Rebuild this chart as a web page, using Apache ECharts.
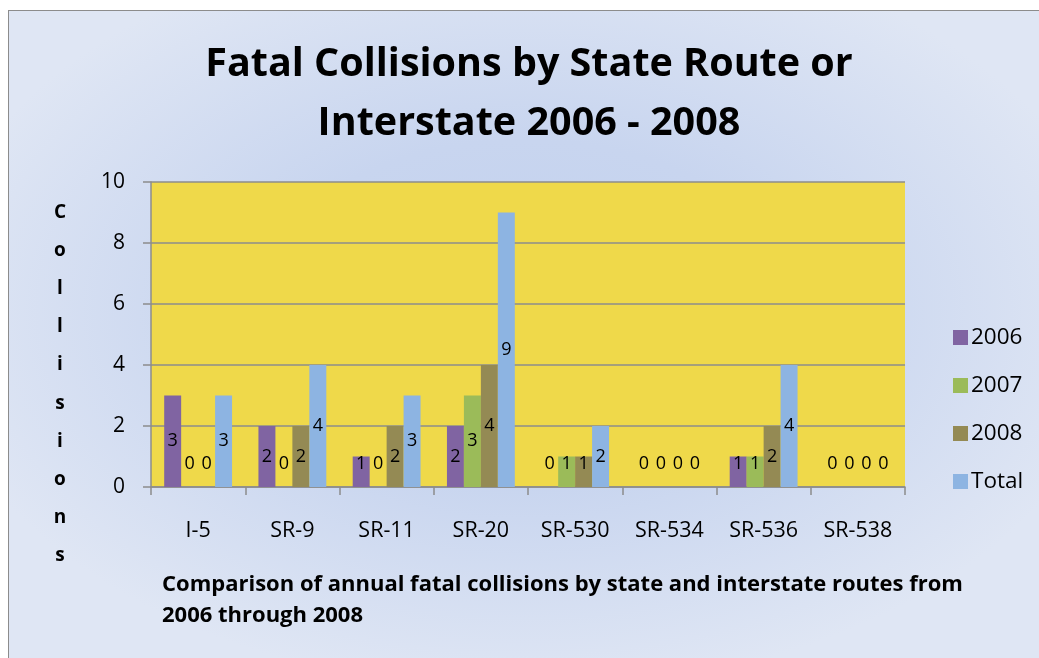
<!DOCTYPE html>
<html>
<head>
<meta charset="utf-8">
<script src="https://cdn.jsdelivr.net/npm/echarts@6/dist/echarts.min.js"></script>
<style>
html,body{margin:0;padding:0;background:#fff;width:1039px;height:658px;overflow:hidden;}
#bg{position:absolute;left:8px;top:10px;width:1100px;height:700px;border:1.5px solid #8c8c8c;
background:radial-gradient(ellipse 600px 380px at 515px 300px,#c2d1ee 0%,#c8d5ef 45%,#dfe6f4 100%);}
#chart{position:absolute;left:0;top:0;width:1039px;height:658px;}
</style>
</head>
<body>
<div id="bg"></div>
<div id="chart"></div>
<script>
var categories = ['I-5','SR-9','SR-11','SR-20','SR-530','SR-534','SR-536','SR-538'];
var seriesNames = ['2006','2007','2008','Total'];
var v2006 = [3,2,1,2,0,0,1,0];
var v2007 = [0,0,0,3,1,0,1,0];
var v2008 = [0,2,2,4,1,0,2,0];
var vTotal = [3,4,3,9,2,0,4,0];
var yTicks = [0,2,4,6,8,10];

var colors = ['#8064A2','#9BBB59','#948A54','#8DB4E2'];
var FONT = '"Open Sans", sans-serif';

function mkData(arr){
  return arr.map(function(v){
    if (v < 1.6) {
      return {value:v, label:{position:'insideBottom', distance:14}};
    }
    return v;
  });
}

var allVals = [v2006, v2007, v2008, vTotal];
var series = allVals.map(function(arr, i){
  return {
    name: seriesNames[i],
    type: 'bar',
    data: mkData(arr),
    barGap: '0%',
    barCategoryGap: '28%',
    itemStyle: {color: colors[i]},
    label: {show:true, position:'inside', color:'#000', fontSize:18, fontFamily:FONT}
  };
});

var chart = echarts.init(document.getElementById('chart'), null, {renderer:'canvas'});
chart.setOption({
  backgroundColor: 'transparent',
  animation: false,
  color: colors,
  title: [{
    text: 'Comparison of annual fatal collisions by state and interstate routes from\n2006 through 2008',
    left: 157,
    top: 564,
    textStyle: {fontFamily:FONT, fontWeight:'bold', fontSize:22, lineHeight:31, color:'#000'}
  }],
  graphic: [{
    type: 'text',
    x: 529,
    y: 35,
    style: {
      text: 'Fatal Collisions by State Route or\nInterstate 2006 - 2008',
      fontFamily: FONT, fontWeight: 'bold', fontSize: 39.5, lineHeight: 59,
      fill: '#000', textAlign: 'center', textVerticalAlign: 'top'
    }
  },{
    type: 'text',
    x: 60,
    y: 193,
    style: {
      text: 'C\no\nl\nl\ni\ns\ni\no\nn\ns',
      fontFamily: FONT, fontWeight: 'bold', fontSize: 19, lineHeight: 38.2,
      fill: '#000', textAlign: 'center', textVerticalAlign: 'top'
    }
  }],
  legend: {
    orient: 'vertical',
    left: 948,
    top: 321,
    itemWidth: 15,
    itemHeight: 15,
    itemGap: 25,
    icon: 'rect',
    data: seriesNames,
    textStyle: {fontFamily:FONT, fontSize:22.5, color:'#000', padding:[0,0,0,-2]}
  },
  grid: {left:151, right:134, top:182, bottom:171, show:true, backgroundColor:'#EFD94A', borderWidth:0},
  xAxis: {
    type: 'category',
    data: categories,
    axisLine: {show:true, lineStyle:{color:'#8c8c8c', width:1.5}},
    axisTick: {show:true, length:8, lineStyle:{color:'#8c8c8c', width:1.5}},
    axisLabel: {fontFamily:FONT, fontSize:21.5, color:'#000', margin:33}
  },
  yAxis: {
    type: 'value',
    min: 0, max: 10, interval: 2,
    axisLine: {show:true, lineStyle:{color:'#8c8c8c', width:1.5}},
    axisTick: {show:true, length:8, lineStyle:{color:'#8c8c8c', width:1.5}},
    splitLine: {show:true, lineStyle:{color:'#8c8c8c', width:1.5}},
    axisLabel: {fontFamily:FONT, fontSize:21, color:'#000', margin:26,
      formatter: function(v){ return yTicks.indexOf(v) >= 0 ? String(v) : ''; }}
  },
  series: series
});
</script>
</body>
</html>
